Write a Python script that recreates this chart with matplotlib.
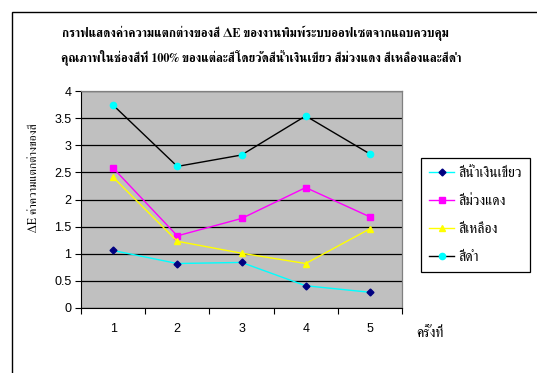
import matplotlib
matplotlib.use("Agg")
import matplotlib.pyplot as plt
from matplotlib.patches import Rectangle
import numpy as np

# Delta E per run
runs = [1, 2, 3, 4, 5]
cyan_vals = [1.06, 0.82, 0.84, 0.41, 0.29]
magenta_vals = [2.58, 1.33, 1.65, 2.22, 1.68]
yellow_vals = [2.41, 1.23, 1.01, 0.82, 1.46]
black_vals = [3.74, 2.61, 2.82, 3.54, 2.84]
series_names = ["สีน้ำเงินเขียว", "สีม่วงแดง", "สีเหลือง", "สีดำ"]

title_lines = ["กราฟแสดงค่าความแตกต่างของสี ΔE ของงานพิมพ์ระบบออฟเซตจากแถบควบคุม",
               "คุณภาพในช่องสีที่ 100% ของแต่ละสีโดยวัดสีน้ำเงินเขียว สีม่วงแดง สีเหลืองและสีดำ"]
y_label = "ΔE ค่าความแตกต่างของสี"
x_label = "ครั้งที่"

THAI = ["FreeSerif", "Sarabun", "DejaVu Sans"]
SANS = ["Liberation Sans", "DejaVu Sans"]

fig = plt.figure(figsize=(5.37, 3.73), dpi=100)
fig.patch.set_facecolor("white")
# outer chart border
fig.add_artist(Rectangle((12 / 537, -0.05), 1.1, 1 - 12 / 373 + 0.05,
                         transform=fig.transFigure, fill=False,
                         edgecolor="black", linewidth=1.0))

ax = fig.add_axes([81 / 537, 1 - 308 / 373, (402 - 81) / 537, (308 - 91) / 373])
ax.set_facecolor("#C0C0C0")
ax.set_xlim(0.5, 5.5)
ax.set_ylim(0, 4)
ax.set_yticks(np.arange(0, 4.01, 0.5))
ax.set_yticklabels(["0", "0.5", "1", "1.5", "2", "2.5", "3", "3.5", "4"],
                   family=SANS, fontsize=9)
ax.set_xticks(runs)
ax.set_xticklabels([str(r) for r in runs], family=SANS, fontsize=9)
ax.set_xticks(np.arange(0.5, 5.6, 1.0), minor=True)
ax.tick_params(axis="x", which="major", length=0, pad=11)
ax.tick_params(axis="x", which="minor", length=4, width=0.8, direction="out")
ax.tick_params(axis="y", length=4, width=0.8, direction="out", pad=3)
ax.yaxis.grid(True, color="black", linewidth=0.9)
ax.set_axisbelow(True)
for side in ["top", "right"]:
    ax.spines[side].set_color("#808080")
    ax.spines[side].set_linewidth(0.9)
ax.spines["left"].set_color("black")
ax.spines["bottom"].set_color("black")

h1, = ax.plot(runs, cyan_vals, color="#00FFFF", linewidth=1.0, marker="D",
              markersize=3.5, markerfacecolor="#000080", markeredgecolor="#000080")
h2, = ax.plot(runs, magenta_vals, color="#FF00FF", linewidth=1.0, marker="s",
              markersize=4.5, markerfacecolor="#FF00FF", markeredgecolor="#FF00FF")
h3, = ax.plot(runs, yellow_vals, color="#FFFF00", linewidth=1.0, marker="^",
              markersize=5, markerfacecolor="#FFFF00", markeredgecolor="#FFFF00")
h4, = ax.plot(runs, black_vals, color="black", linewidth=1.0, marker="o",
              markersize=4.5, markerfacecolor="#00FFFF", markeredgecolor="#00FFFF")

leg = fig.legend([h1, h2, h3, h4], series_names,
                 loc="upper left", bbox_to_anchor=(421 / 537, 1 - 158 / 373),
                 borderaxespad=0,
                 prop={"family": THAI, "size": 10}, frameon=True, fancybox=False,
                 edgecolor="black", framealpha=1, borderpad=0.6, labelspacing=1.05,
                 handlelength=1.8, handletextpad=0.3)
leg.get_frame().set_linewidth(0.9)

fig.text(255 / 537, 1 - 33 / 373, title_lines[0], ha="center", va="center",
         family=THAI, fontsize=8.7, fontweight="bold")
fig.text(261 / 537, 1 - 57 / 373, title_lines[1], ha="center", va="center",
         family=THAI, fontsize=8.7, fontweight="bold")
fig.text(34 / 537, 1 - 178 / 373, y_label, rotation=90, ha="center", va="center",
         family=THAI, fontsize=8.5)
fig.text(416 / 537, 1 - 333 / 373, x_label, ha="left", va="center",
         family=THAI, fontsize=10)

fig.savefig("out.png", dpi=100)
